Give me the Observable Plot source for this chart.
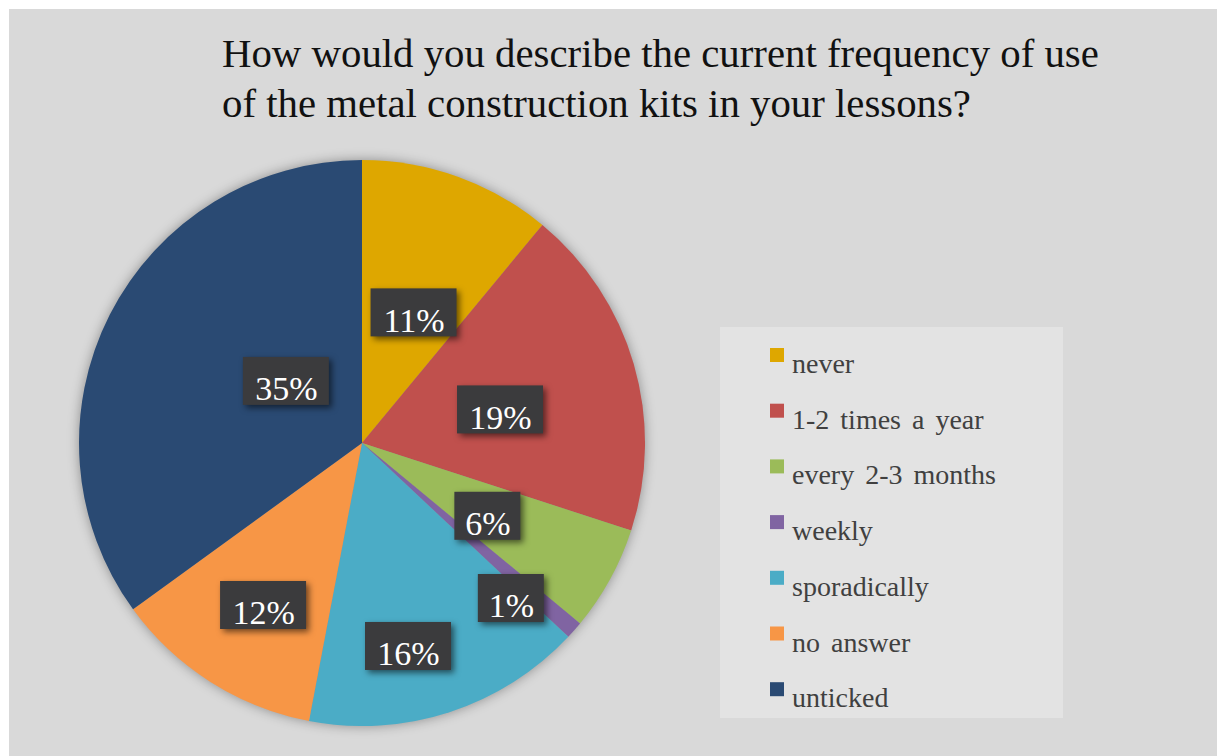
<!DOCTYPE html>
<html>
<head>
<meta charset="utf-8">
<script src="https://cdn.jsdelivr.net/npm/d3@7"></script>
<script src="https://cdn.jsdelivr.net/npm/@observablehq/plot@0.6"></script>
<style>
  body { margin: 0; background: #fff; }
  #page { position: relative; width: 1217px; height: 756px; overflow: hidden; background: #fff; font-family: "Liberation Serif", "Times New Roman", serif; }
  #bg { position: absolute; left: 9px; top: 9px; right: 0; bottom: 0; background: #d9d9d9; }
  #title { position: absolute; left: 222px; top: 29px; font-size: 40.8px; line-height: 50px; color: #111; white-space: nowrap; }
  #chart { position: absolute; left: 49px; top: 130px; }
  #chart svg { overflow: visible; background: transparent; }
  #chart g.pie { filter: drop-shadow(0 0 6px rgba(0,0,0,0.35)); }
  #chart g[aria-label="rect"] rect { filter: drop-shadow(3px 3px 3px rgba(0,0,0,0.55)); }
  #legend { position: absolute; left: 720px; top: 327px; }
</style>
</head>
<body>
<div id="page">
  <div id="bg"></div>
  <div id="title">How would you describe the current frequency of use<br>of the metal construction kits in your lessons?</div>
  <div id="chart"></div>
  <div id="legend"></div>
</div>
<script>
// ---- data ----
const categories = ["never", "1-2 times a year", "every 2-3 months", "weekly", "sporadically", "no answer", "unticked"];
const shares = [11, 19, 6, 1, 16, 12, 35];
const colors = ["#dea700", "#c0504d", "#9bbb59", "#8064a2", "#4bacc6", "#f79646", "#2a4a73"];
// label placement (fraction of radius, angle shift in degrees)
const labelRadius = [0.47, 0.496, 0.527, 0.78, 0.763, 0.695, 0.33];
const labelAngleShift = [3, 5.7, 4, 6.2, 5.7, -2.2, 8.4];

// ---- layout ----
const R = 283, M = 30, size = 2 * (R + M);
const total = d3.sum(shares);
const rows = categories.map((c, i) => ({category: c, share: shares[i], color: colors[i], label: Math.round(shares[i] / total * 100) + "%"}));
const arcs = d3.pie().sort(null).value(d => d.share)(rows);
const labels = arcs.map((a, i) => {
  const ang = (a.startAngle + a.endAngle) / 2 + labelAngleShift[i] * Math.PI / 180;
  const rr = labelRadius[i];
  const x = rr * Math.sin(ang), y = rr * Math.cos(ang);
  const w = (20 * a.data.label.length + 26) / R, h = 48 / R;
  const lift = 8 / R;
  return {label: a.data.label, x, y, x1: x - w / 2, x2: x + w / 2, y1: y + lift - h / 2, y2: y + lift + h / 2};
});

function pieMark(index, scales) {
  const cx = scales.x(0), cy = scales.y(0), r = scales.x(1) - scales.x(0);
  const g = d3.create("svg:g").attr("class", "pie").attr("transform", `translate(${cx},${cy})`);
  g.selectAll("path").data(arcs).join("path")
    .attr("d", d3.arc().innerRadius(0).outerRadius(r))
    .attr("fill", d => d.data.color);
  return g.node();
}

const chart = Plot.plot({
  width: size, height: size, margin: M,
  style: {background: "transparent", overflow: "visible"},
  x: {domain: [-1, 1], axis: null},
  y: {domain: [-1, 1], axis: null},
  marks: [
    pieMark,
    Plot.rect(labels, {x1: "x1", x2: "x2", y1: "y1", y2: "y2", fill: "#3b3b3d"}),
    Plot.text(labels, {x: "x", y: "y", text: "label", fill: "#fff", fontSize: 34, fontFamily: "Liberation Serif, serif"})
  ]
});
document.getElementById("chart").append(chart);

// ---- legend ----
const lw = 343, lh = 391, step = 55.7;
const leg = d3.create("svg").attr("width", lw).attr("height", lh);
leg.append("rect").attr("width", lw).attr("height", lh).attr("fill", "#e3e3e3");
const item = leg.selectAll("g").data(rows).join("g")
  .attr("transform", (d, i) => `translate(0,${i * step})`);
item.append("rect").attr("x", 50).attr("y", 21).attr("width", 14).attr("height", 14).attr("fill", d => d.color);
item.append("text").attr("x", 72).attr("y", 46)
  .attr("font-family", "Liberation Serif, serif").attr("font-size", 28).attr("fill", "#404040")
  .attr("word-spacing", 4)
  .text(d => d.category);
document.getElementById("legend").append(leg.node());
</script>
</body>
</html>
